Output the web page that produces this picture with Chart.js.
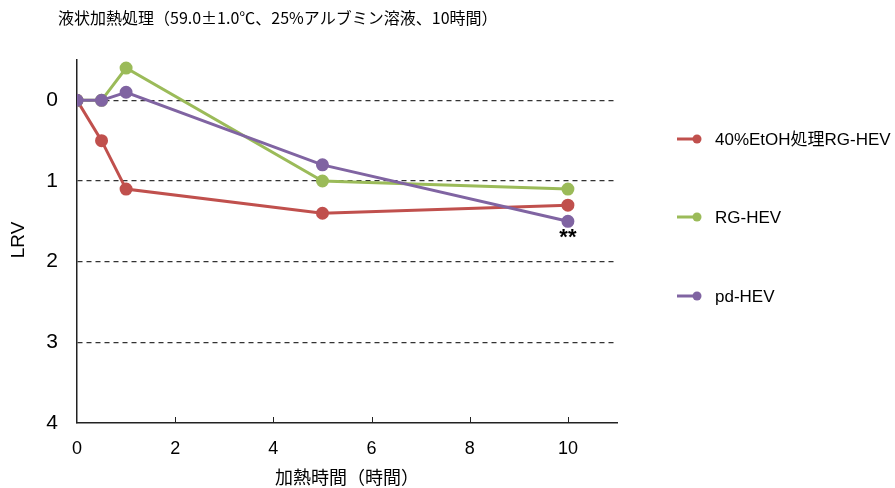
<!DOCTYPE html>
<html><head><meta charset="utf-8">
<script src="https://cdn.jsdelivr.net/npm/chart.js@4/dist/chart.umd.min.js"></script>
<style>html,body{margin:0;padding:0;background:#fff}#wrap{width:895px;height:488px;position:relative}</style>
</head><body><div id="wrap"><canvas id="c" width="895" height="488"></canvas></div>
<script>
const titleText = '液状加熱処理（59.0±1.0℃、25%アルブミン溶液、10時間）';
const xTitle = '加熱時間（時間）';
const yTitle = 'LRV';
const seriesNames = ['40%EtOH処理RG-HEV', 'RG-HEV', 'pd-HEV'];
const seriesColors = ['#C0504D', '#9BBB59', '#8064A2'];
const hoursRed = [0, 0.5, 1, 5, 10];
const lrvRed = [0, 0.5, 1.1, 1.4, 1.3];
const hoursGreen = [0, 0.5, 1, 5, 10];
const lrvGreen = [0, 0, -0.4, 1.0, 1.1];
const hoursPurple = [0, 0.5, 1, 5, 10];
const lrvPurple = [0, 0, -0.1, 0.8, 1.5];
const xTicks = [0, 2, 4, 6, 8, 10];
const yTicks = [0, 1, 2, 3, 4];
const annotation = {x: 10, y: 1.5, text: '**'};

const FONT = '"Liberation Sans", Arial, "Noto Sans CJK JP", sans-serif';
const CJK = '"Noto Sans CJK JP", "Liberation Sans", sans-serif';

function mk(xs, ys){ return xs.map((x,i)=>({x:x, y:ys[i]})); }
const seriesData = [mk(hoursRed, lrvRed), mk(hoursGreen, lrvGreen), mk(hoursPurple, lrvPurple)];
const drawOrder = [2, 1, 0];

const extras = {
  id: 'extras',
  afterDraw(chart){
    const ctx = chart.ctx;
    const xs = chart.scales.x, ys = chart.scales.y;
    const ca = chart.chartArea;
    ctx.save();
    // inward x ticks
    ctx.strokeStyle = '#222'; ctx.lineWidth = 1;
    xTicks.forEach(v=>{ if(v===0) return; const px = Math.round(xs.getPixelForValue(v))+0.5;
      ctx.beginPath(); ctx.moveTo(px, ca.bottom); ctx.lineTo(px, ca.bottom-6); ctx.stroke(); });
    // title
    ctx.fillStyle = '#000'; ctx.textBaseline = 'middle'; ctx.textAlign = 'left';
    ctx.font = '16px ' + CJK;
    ctx.fillText(titleText, 58, 18);
    // x title
    ctx.textAlign = 'center';
    ctx.font = '18px ' + CJK;
    ctx.fillText(xTitle, 347, 477);
    // y title
    ctx.save(); ctx.translate(19, 240); ctx.rotate(-Math.PI/2);
    ctx.font = '19px ' + FONT; ctx.fillText(yTitle, 0, 0); ctx.restore();
    // annotation
    ctx.font = 'bold 22px ' + FONT; ctx.textAlign = 'center'; ctx.textBaseline = 'top';
    ctx.fillText(annotation.text, xs.getPixelForValue(annotation.x), ys.getPixelForValue(annotation.y)+6);
    // legend
    const ly = [139, 217, 296];
    seriesNames.forEach((n,i)=>{
      ctx.strokeStyle = seriesColors[i]; ctx.fillStyle = seriesColors[i]; ctx.lineWidth = 3;
      ctx.beginPath(); ctx.moveTo(677, ly[i]); ctx.lineTo(698, ly[i]); ctx.stroke();
      ctx.beginPath(); ctx.arc(697, ly[i], 4.5, 0, Math.PI*2); ctx.fill();
      ctx.fillStyle = '#000'; ctx.font = '17px ' + FONT; ctx.textAlign = 'left'; ctx.textBaseline = 'middle';
      ctx.fillText(n, 715, ly[i]+1);
    });
    ctx.restore();
  }
};

new Chart(document.getElementById('c'), {
  type: 'line',
  data: {
    datasets: seriesNames.map((n,i)=>({
      label: n, data: seriesData[i], order: drawOrder[i],
      borderColor: seriesColors[i], backgroundColor: seriesColors[i],
      borderWidth: 3, pointRadius: 5, pointHoverRadius: 5, tension: 0, fill: false
    }))
  },
  options: {
    responsive: false, animation: false, devicePixelRatio: 1,
    layout: {padding: {top: 60, right: 278, left: 0, bottom: 0}},
    plugins: {legend: {display: false}, title: {display: false}, tooltip: {enabled: false}},
    scales: {
      x: {
        type: 'linear', min: 0, max: 11,
        afterBuildTicks: s => { s.ticks = xTicks.map(v=>({value:v})); },
        afterFit: s => { s.height = 65; },
        grid: {display: false, drawTicks: false},
        border: {display: true, color: '#222', width: 1.5},
        ticks: {color: '#000', font: {family: FONT, size: 18}, padding: 15, maxRotation: 0, autoSkip: false}
      },
      y: {
        type: 'linear', min: -0.5, max: 4, reverse: true,
        afterBuildTicks: s => { s.ticks = yTicks.map(v=>({value:v})); },
        afterFit: s => { s.width = 77; },
        grid: {drawTicks: false, color: ctx => (ctx.tick && ctx.tick.value < 4) ? '#333' : 'rgba(0,0,0,0)', lineWidth: 1.2},
        border: {display: true, color: '#222', width: 1.5, dash: [5, 4]},
        ticks: {color: '#000', font: {family: FONT, size: 21}, padding: 19, autoSkip: false}
      }
    }
  },
  plugins: [extras]
});
</script></body></html>
